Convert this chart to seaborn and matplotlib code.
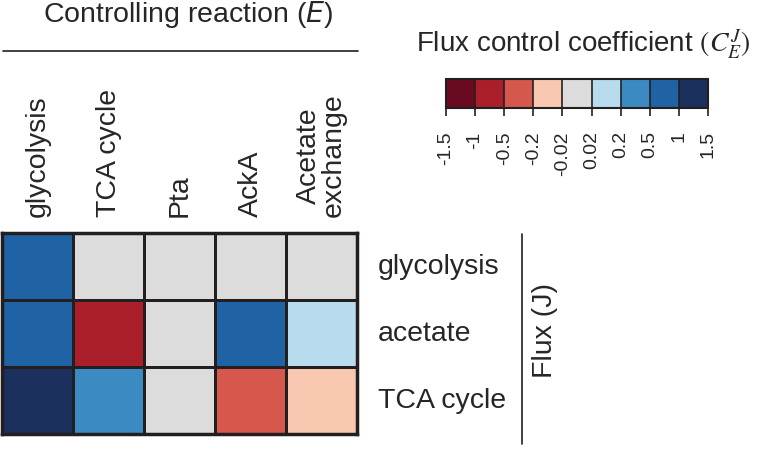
import numpy as np
import pandas as pd
import matplotlib.pyplot as plt
import matplotlib.colors as mcolors
from matplotlib.lines import Line2D
import seaborn as sns

sns.set_style("white")
plt.rcParams['font.family'] = ['Liberation Sans', 'DejaVu Sans']
plt.rcParams['mathtext.fontset'] = 'stix'

# data
reactions = ["glycolysis", "TCA cycle", "Pta", "AckA", "Acetate\nexchange"]
fluxes = ["glycolysis", "acetate", "TCA cycle"]
glycolysis_row = [0.7, 0.0, 0.0, 0.0, 0.0]
acetate_row = [0.7, -0.7, 0.0, 0.7, 0.1]
tca_row = [1.2, 0.3, 0.0, -0.3, -0.1]
bounds = [-1.5, -1, -0.5, -0.2, -0.02, 0.02, 0.2, 0.5, 1, 1.5]
bound_labels = ["-1.5", "-1", "-0.5", "-0.2", "-0.02", "0.02", "0.2", "0.5", "1", "1.5"]
colors = ["#690a21", "#ab1f2b", "#d6574b", "#f8c8b0", "#dcdcdd",
          "#b8dbee", "#3b8bc2", "#1f63a5", "#1b305d"]

df = pd.DataFrame([glycolysis_row, acetate_row, tca_row], index=fluxes, columns=reactions)

cmap = mcolors.ListedColormap(colors)
norm = mcolors.BoundaryNorm(bounds, cmap.N)
edge = "#231f20"
fs = 20.5

fig = plt.figure(figsize=(7.57, 4.52), dpi=100)
ax = fig.add_axes([2 / 757, 1 - 435 / 452, 355 / 757, 201 / 452])
cax = fig.add_axes([446 / 757, 1 - 109 / 452, 262 / 757, 29 / 452])

sns.heatmap(df, ax=ax, cmap=cmap, norm=norm, linewidths=2, linecolor=edge,
            cbar_ax=cax, cbar_kws={"orientation": "horizontal", "ticks": bounds,
                                   "spacing": "uniform", "drawedges": True})

for s in ax.spines.values():
    s.set_visible(True)
    s.set_linewidth(2.5)
    s.set_color(edge)

ax.xaxis.tick_top()
ax.set_xticklabels(reactions, rotation=90, fontsize=fs, ha="center", va="bottom",
                   linespacing=0.95)
ax.yaxis.tick_right()
ax.set_yticklabels(fluxes, rotation=0, fontsize=fs, ha="left", va="center")
ax.tick_params(axis="x", length=0, pad=12)
ax.tick_params(axis="y", length=0, pad=15)
ax.set_xlabel("")
ax.set_ylabel("")

cb = ax.collections[0].colorbar
cb.outline.set_linewidth(1.5)
cb.outline.set_edgecolor(edge)
cb.dividers.set_color(edge)
cb.dividers.set_linewidth(1.2)
cb.set_ticks(bounds)
cb.set_ticklabels(bound_labels)
cax.xaxis.set_ticks_position("bottom")
cax.tick_params(axis="x", rotation=90, labelsize=14, length=6, width=1.2,
                color=edge, bottom=True, top=False, direction="out", pad=10)

fig.text(188 / 757, 1 - 14 / 452, "Controlling reaction ($\\mathit{E}$)", fontsize=fs,
         ha="center", va="center", math_fontfamily="dejavusans")
fig.add_artist(Line2D([3 / 757, 358 / 757], [1 - 52 / 452, 1 - 52 / 452],
                      color=edge, lw=1.2))
fig.text(583 / 757, 1 - 45 / 452, "Flux control coefficient $(C_E^J)$", fontsize=20,
         ha="center", va="center")
fig.add_artist(Line2D([522 / 757, 522 / 757], [1 - 235 / 452, 1 - 445 / 452],
                      color=edge, lw=1.2))
fig.text(545 / 757, 1 - 330 / 452, "Flux (J)", fontsize=fs, rotation=90,
         ha="center", va="center")

fig.savefig("out.png", dpi=100)
